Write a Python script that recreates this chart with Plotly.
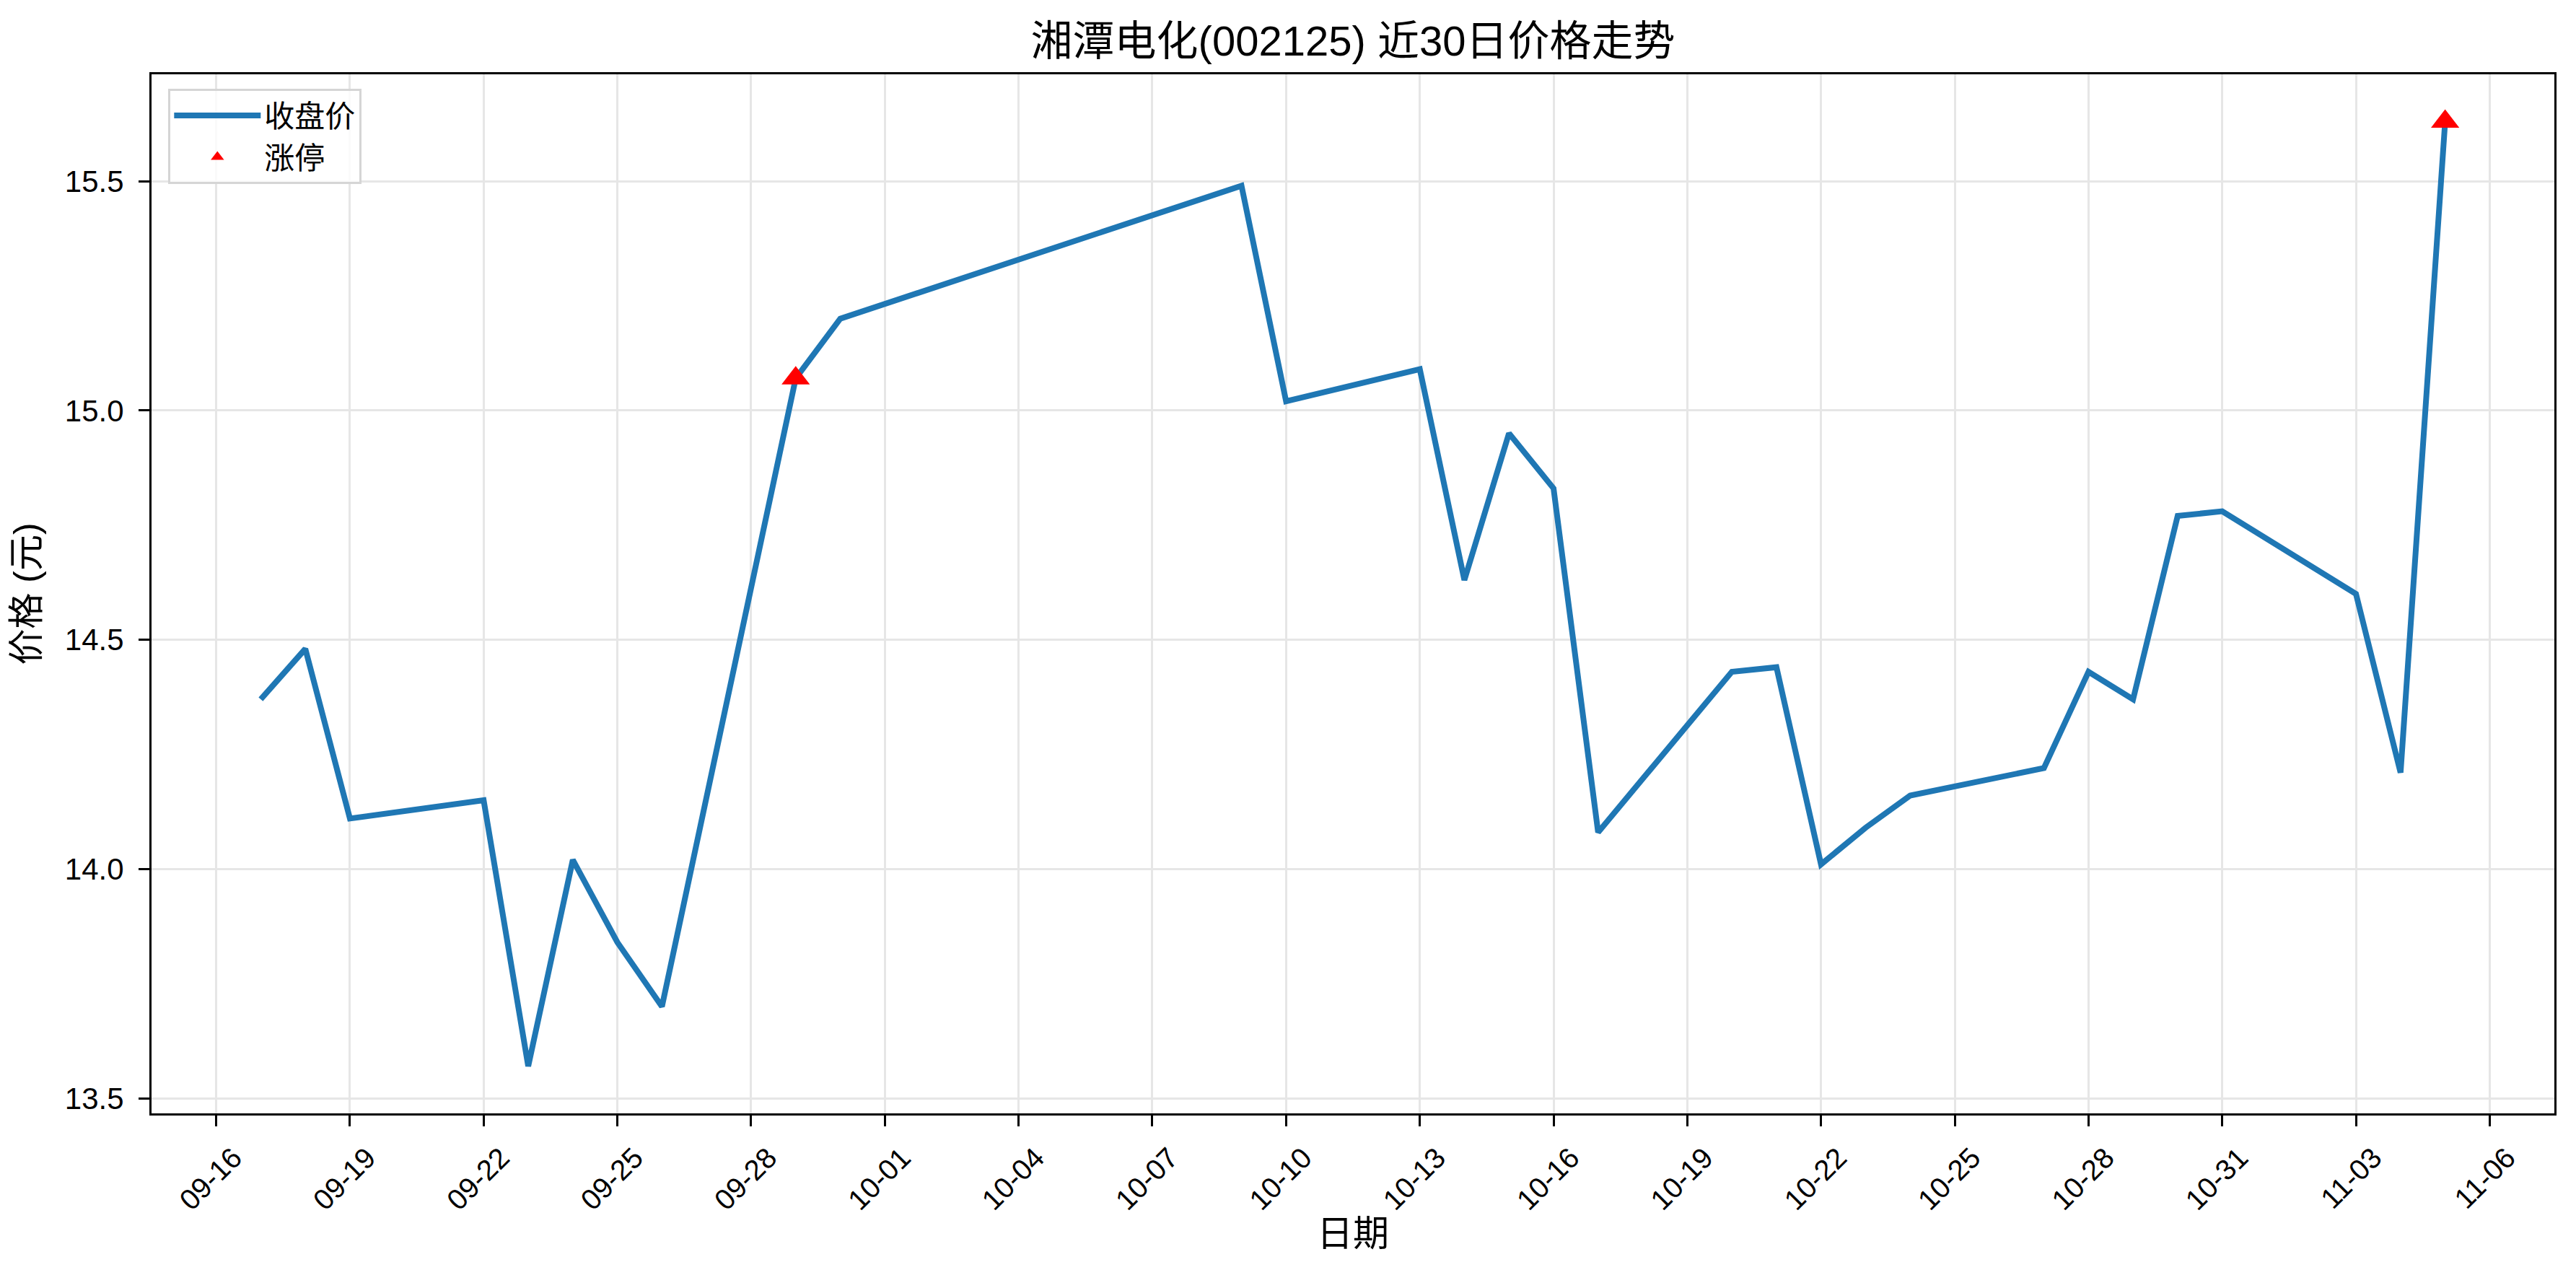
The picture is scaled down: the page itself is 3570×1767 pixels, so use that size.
import pandas as pd
import plotly.graph_objects as go

dates = ['2025-09-17', '2025-09-18', '2025-09-19', '2025-09-22', '2025-09-23',
         '2025-09-24', '2025-09-25', '2025-09-26', '2025-09-29', '2025-09-30',
         '2025-10-09', '2025-10-10', '2025-10-13', '2025-10-14', '2025-10-15',
         '2025-10-16', '2025-10-17', '2025-10-20', '2025-10-21', '2025-10-22',
         '2025-10-23', '2025-10-24', '2025-10-27', '2025-10-28', '2025-10-29',
         '2025-10-30', '2025-10-31', '2025-11-03', '2025-11-04', '2025-11-05']
close = [14.37, 14.48, 14.11, 14.15, 13.57,
         14.02, 13.84, 13.70, 15.07, 15.20,
         15.49, 15.02, 15.09, 14.63, 14.95,
         14.83, 14.08, 14.43, 14.44, 14.01,
         14.09, 14.16, 14.22, 14.43, 14.37,
         14.77, 14.78, 14.60, 14.21, 15.63]
limit_up_dates = ['2025-09-29', '2025-11-05']

title = '湘潭电化(002125) 近30日价格走势'
FONT = 'Liberation Sans, Arial, Noto Sans CJK SC'

# page body has an 8px margin, so the figure is a bit smaller than the window
W, H = 3570 - 16, 1767 - 16
M = dict(l=202, r=22, t=95, b=216)
plot_h = H - M['t'] - M['b']

df = pd.DataFrame({'date': pd.to_datetime(dates), 'close': close})
zt = df[df['date'].isin(pd.to_datetime(limit_up_dates))]

# matplotlib-like 5% margins
span_x = df['date'].max() - df['date'].min()
xr = [df['date'].min() - span_x * 0.05, df['date'].max() + span_x * 0.05]
span_y = df['close'].max() - df['close'].min()
yr = [df['close'].min() - span_y * 0.05, df['close'].max() + span_y * 0.05]

fig = go.Figure()
fig.add_trace(go.Scatter(name='收盘价', x=df['date'], y=df['close'], mode='lines',
                         line=dict(color='#1f77b4', width=8)))
fig.add_trace(go.Scatter(name='涨停', x=zt['date'], y=zt['close'], mode='markers',
                         marker=dict(symbol='triangle-up', color='red', size=34)))

axis_common = dict(showline=True, linecolor='black', linewidth=3, mirror=True,
                   ticks='outside', ticklen=15, tickwidth=3, tickcolor='black',
                   showgrid=True, gridcolor='#e6e6e6', gridwidth=3, zeroline=False)

fig.update_xaxes(range=xr, tick0='2025-09-16', dtick=3 * 86400000, tickformat='%m-%d',
                 tickangle=-45, ticklabelshift=24, ticklabelstandoff=4,
                 tickfont=dict(size=40, color='black', family=FONT),
                 **axis_common)
fig.update_yaxes(range=yr, dtick=0.5, tickformat='.1f', ticklabelstandoff=12,
                 tickfont=dict(size=42, color='black', family=FONT),
                 title=dict(text='价格 (元)', font=dict(size=50, color='black', family=FONT), standoff=20),
                 **axis_common)

# x axis title placed as in the reference
fig.add_annotation(text='日期', xref='paper', yref='paper', x=0.5, y=-(1702 - (H - M['b'])) / plot_h,
                   xanchor='center', yanchor='middle', showarrow=False,
                   font=dict(size=50, color='black', family=FONT))

fig.update_layout(width=W, height=H,
                  paper_bgcolor='white', plot_bgcolor='white',
                  font=dict(family=FONT, color='black'),
                  title=dict(text=title, xref='paper', x=0.5, xanchor='center',
                             y=1 - 49 / H, yanchor='middle',
                             font=dict(size=58, color='black', family=FONT)),
                  margin=dict(**M, autoexpand=False),
                  legend=dict(x=0.007, y=0.986, xanchor='left', yanchor='top',
                              bgcolor='rgba(255,255,255,0.8)', bordercolor='#d5d5d5', borderwidth=3,
                              font=dict(size=42, color='black', family=FONT),
                              itemwidth=120, tracegroupgap=4),
                  showlegend=True)

fig.write_html("out.html")
